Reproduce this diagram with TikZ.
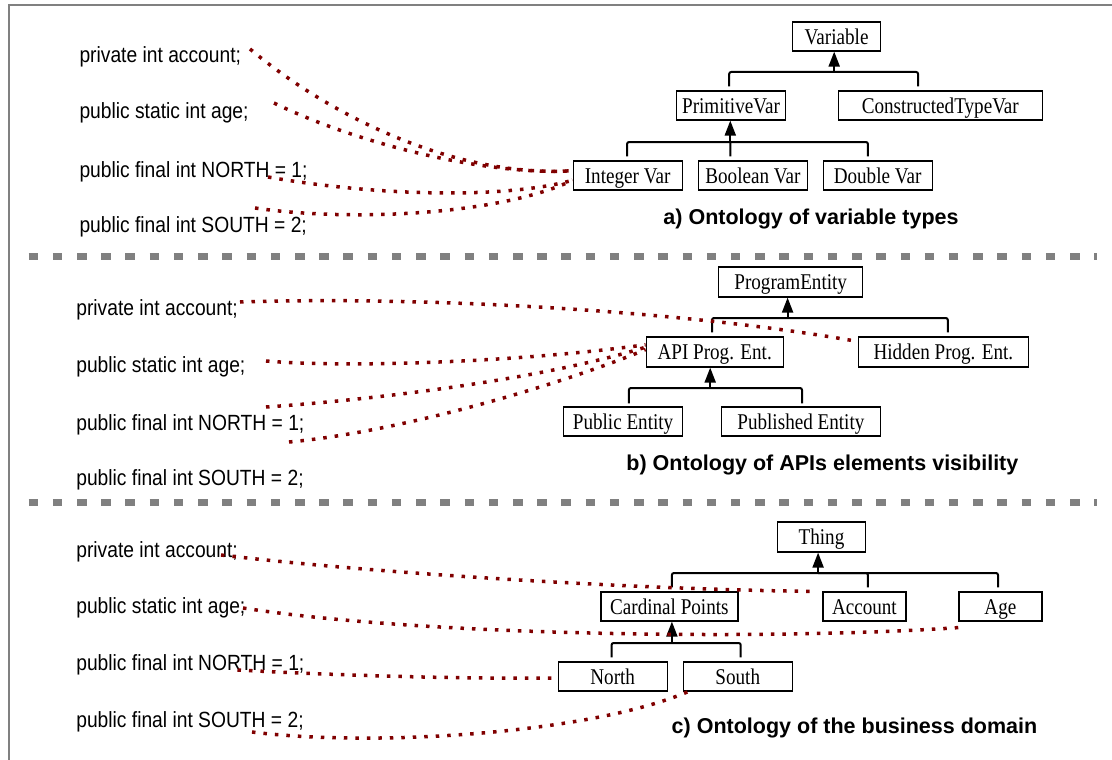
\documentclass[tikz,border=0pt]{standalone}
\usepackage{fontspec}
\usetikzlibrary{arrows.meta}
\newfontfamily\boxfont{Liberation Serif}[FakeStretch=0.85]
\newfontfamily\codefont{Liberation Sans}[FakeStretch=0.875]
\newfontfamily\capfont{Liberation Sans}
\definecolor{linkred}{RGB}{128,0,0}
\definecolor{framegray}{RGB}{128,128,128}
\begin{document}
\begin{tikzpicture}[x=1pt,y=-1pt,
  cls/.style={draw=black, line width=1.2pt, inner sep=0pt, minimum width=#1,
    minimum height=29pt, text height=20pt, text depth=4.4pt,
    font=\boxfont\fontsize{22.5pt}{26pt}\selectfont},
  code/.style={anchor=base west, inner sep=0pt,
    font=\codefont\fontsize{22pt}{26pt}\selectfont},
  caption/.style={anchor=base, inner sep=0pt,
    font=\capfont\bfseries\fontsize{21.5pt}{25pt}\selectfont},
  bar/.style={line width=2pt, rounded corners=2pt},
  isa/.style={line width=2pt, -{Triangle[length=15pt,width=11pt]}},
  link/.style={draw=linkred, line width=3.5pt, dash pattern=on 3.5pt off 8pt},
  sep/.style={draw=framegray, line width=7pt, dash pattern=on 9.5pt off 14.72pt}]
\useasboundingbox (0,0) rectangle (1112,760);

% frame and section separators
\draw[framegray, line width=1.5pt] (9,760) -- (9,5) -- (1112,5);
\draw[sep] (28.6,256) -- (1097,256);
\draw[sep] (28.6,502) -- (1097,502);

% ---------- a) variable types ----------
\node[code] (a1) at (79.3,63) {private int account;};
\node[code] (a2) at (79.3,118.5) {public static int age;};
\node[code] (a3) at (79.3,177.5) {public final int NORTH = 1;};
\node[code] (a4) at (79.3,232) {public final int SOUTH = 2;};

\node[cls=88]  (var)   at (836.6,36.5)  {Variable};
\node[cls=109] (prim)  at (731,105.5)   {PrimitiveVar};
\node[cls=204] (cons)  at (940.3,105.5) {ConstructedTypeVar};
\node[cls=109] (intv)  at (627.6,175.5) {Integer Var};
\node[cls=109] (boolv) at (752.9,175.5) {Boolean Var};
\node[cls=109] (dblv)  at (877.6,175.5) {Double Var};
\node[caption] (capa) at (811,224) {a) Ontology of variable types};

\coordinate (ja) at (834.2,72);
\coordinate (jb) at (730.3,142);
\draw[bar] ([xshift=-1.8pt,yshift=4pt]prim.north) |- (ja) -| ([xshift=-22.2pt,yshift=4pt]cons.north);
\draw[isa] (ja) -- (ja |- var.south);
\draw[bar] ([xshift=-0.5pt,yshift=4pt]intv.north) |- (jb) -| ([xshift=-9.7pt,yshift=4pt]dblv.north);
\draw[bar] (jb) -- ([xshift=-22.6pt,yshift=4pt]boolv.north);
\draw[isa] (jb) -- (jb |- prim.south);

% ---------- b) API visibility ----------
\node[code] (b1) at (76.1,315) {private int account;};
\node[code] (b2) at (76.1,372) {public static int age;};
\node[code] (b3) at (76.1,430) {public final int NORTH = 1;};
\node[code] (b4) at (76.1,485) {public final int SOUTH = 2;};

\node[cls=144, minimum height=30pt] (pent) at (790.7,282) {ProgramEntity};
\node[cls=137, minimum height=30pt] (api)  at (714.7,352) {API Prog. Ent.};
\node[cls=170, minimum height=30pt] (hid)  at (943.4,352) {Hidden Prog. Ent.};
\node[cls=119] (pub)  at (623.1,421.5) {Public Entity};
\node[cls=159] (publ) at (800.9,421.5) {Published Entity};
\node[caption] (capb) at (822.4,470) {b) Ontology of APIs elements visibility};

\coordinate (jp) at (787.6,318);
\coordinate (jq) at (710.2,388);
\draw[bar] ([xshift=-2.7pt,yshift=4pt]api.north) |- (jp) -| ([xshift=4.4pt,yshift=4pt]hid.north);
\draw[isa] (jp) -- (jp |- pent.south);
\draw[bar] ([xshift=5.8pt,yshift=3pt]pub.north) |- (jq) -| ([xshift=1.1pt,yshift=3pt]publ.north);
\draw[isa] (jq) -- (jq |- api.south);

% ---------- c) business domain ----------
\node[code] (c1) at (76.1,557) {private int account;};
\node[code] (c2) at (76.1,613) {public static int age;};
\node[code] (c3) at (76.1,670) {public final int NORTH = 1;};
\node[code] (c4) at (76.1,727) {public final int SOUTH = 2;};

\node[cls=88, minimum height=30pt] (thing) at (821.5,537) {Thing};
\node[cls=137] (card)  at (669.4,606.5)  {Cardinal Points};
\node[cls=83]  (acct)  at (864.4,606.5)  {Account};
\node[cls=83]  (agec)  at (1000.4,606.5) {Age};
\node[cls=109] (north) at (612.7,676.5)  {North};
\node[cls=109] (south) at (737.8,676.5)  {South};
\node[caption] (capc) at (854.5,733) {c) Ontology of the business domain};

\coordinate (jt) at (818.1,573);
\coordinate (jn) at (671.9,643);
\draw[bar] ([xshift=2.5pt,yshift=4pt]card.north) |- (jt) -| ([xshift=-2.4pt,yshift=4pt]agec.north);
\draw[bar] ([xshift=3.5pt,yshift=4pt]acct.north) |- (jt);
\draw[isa] (jt) -- (jt |- thing.south);
\draw[bar] ([xshift=-1.1pt,yshift=4pt]north.north) |- (jn) -| ([xshift=2.9pt,yshift=4pt]south.north);
\draw[isa] (jn) -- (jn |- card.south);

% ---------- mappings from code to concepts ----------
\coordinate (pa1) at (250,49);
\coordinate (pa2) at (274,103);
\coordinate (pa3) at (268,177);
\coordinate (pa4) at (255,208);
\draw[link] (pa1) .. controls (335,120) and (460,178) .. (intv.175);
\draw[link] (pa2) .. controls (360,145) and (490,176) .. (intv.175);
\draw[link] (pa3) .. controls (370,195) and (500,200) .. (intv.185);
\draw[link] (pa4) .. controls (350,222) and (500,215) .. (intv.185);

\coordinate (pb1) at (240,302);
\coordinate (pb2) at (266,361);
\coordinate (pb3) at (266,407);
\coordinate (pb4) at (289,442);
\draw[link] (pb1) .. controls (420,296) and (680,310) .. (hid.173);
\draw[link] (pb2) .. controls (350,368) and (520,362) .. (api.174);
\draw[link] (pb3) .. controls (370,400) and (540,380) .. (api.176);
\draw[link] (pb4) .. controls (400,432) and (560,385) .. (api.178);

\coordinate (pc1) at (221,555);
\coordinate (pc2) at (243,608);
\coordinate (pc3) at (237.5,670);
\coordinate (pc4) at (252,732);
\draw[link] (pc1) .. controls (380,574) and (650,590) .. ([xshift=-5pt]acct.north west);
\draw[link] (pc2) .. controls (430,637) and (780,640) .. ([yshift=-6pt]agec.south west);
\draw[link] (pc3) .. controls (350,676) and (470,679) .. ([yshift=-1.5pt]north.west);
\draw[link] (pc4) .. controls (380,748) and (600,732) .. ([xshift=10pt,yshift=2pt]south.south west);
\end{tikzpicture}
\end{document}
